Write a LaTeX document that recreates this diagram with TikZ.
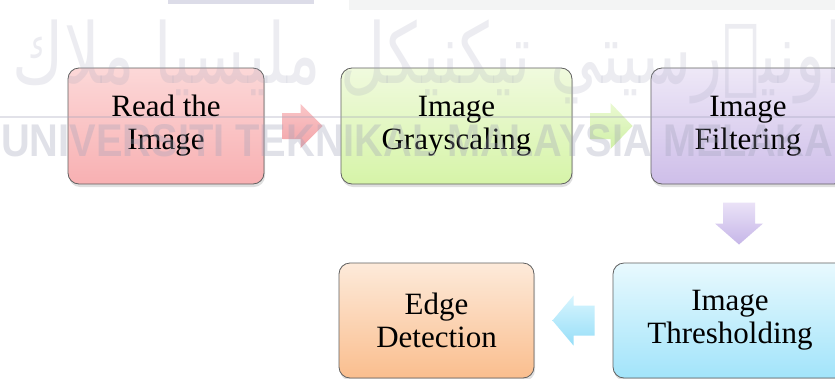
\documentclass[tikz,border=0pt]{standalone}
\usepackage{fontspec}
\usepackage{graphicx}
\setmainfont{Liberation Serif}
\newfontfamily\wmsans{Liberation Sans}
\newfontfamily\arabicfont[Script=Arabic]{DejaVu Sans}
\TeXXeTstate=1
\usetikzlibrary{calc,shadows}
\definecolor{bordgray}{RGB}{96,96,96}
\definecolor{pinkT}{RGB}{252,216,216}\definecolor{pinkB}{RGB}{248,176,178}
\definecolor{greenT}{RGB}{240,250,222}\definecolor{greenB}{RGB}{214,244,168}
\definecolor{purpT}{RGB}{238,232,247}\definecolor{purpB}{RGB}{206,190,233}
\definecolor{cyanT}{RGB}{232,249,254}\definecolor{cyanB}{RGB}{162,228,250}
\definecolor{orgT}{RGB}{253,234,218}\definecolor{orgB}{RGB}{250,190,142}
\definecolor{apinkT}{RGB}{250,198,200}\definecolor{apinkB}{RGB}{242,164,168}
\definecolor{agreenT}{RGB}{234,249,210}\definecolor{agreenB}{RGB}{208,240,166}
\definecolor{apurpT}{RGB}{234,226,247}\definecolor{apurpB}{RGB}{198,182,232}
\definecolor{ablueT}{RGB}{216,245,254}\definecolor{ablueB}{RGB}{150,222,248}
\definecolor{wmgray}{RGB}{160,162,185}
\definecolor{barA}{RGB}{220,220,232}
\definecolor{barB}{RGB}{243,244,244}
\begin{document}
\begin{tikzpicture}[x=1pt,y=-1pt,
  stepbox/.style={draw=bordgray, line width=0.8pt, rounded corners=11pt,
    align=center, inner sep=0pt, font=\fontsize{31}{33}\selectfont,
    drop shadow={shadow xshift=1pt,shadow yshift=-3pt,opacity=0.25}},
  flowarrow/.style={draw=none}
]
\useasboundingbox (0,0) rectangle (835,378);
\fill[white] (0,0) rectangle (835,378);

% boxes
\node[stepbox, minimum width=196pt, minimum height=116pt, top color=pinkT, bottom color=pinkB]
  (b1) at (166,126) {Read the\\Image};
\node[stepbox, minimum width=231pt, minimum height=116pt, top color=greenT, bottom color=greenB]
  (b2) at (456.5,126) {Image\\Grayscaling};
\node[stepbox, minimum width=194pt, minimum height=116pt, top color=purpT, bottom color=purpB]
  (b3) at (748,126) {Image\\Filtering};
\node[stepbox, minimum width=234pt, minimum height=115pt, top color=cyanT, bottom color=cyanB]
  (b4) at (730,320.5) {Image\\Thresholding};
\node[stepbox, minimum width=195pt, minimum height=115pt, top color=orgT, bottom color=orgB]
  (b5) at (436.5,320.5) {Edge\\Detection};

% block arrows between boxes
\coordinate (m1) at ($(b1.east)!0.5!(b2.west)$);
\coordinate (m2) at ($(b2.east)!0.5!(b3.west)$);
\coordinate (m3) at ($(b3.south)!0.5!(b4.north)$);
\coordinate (m4) at ($(b4.west)!0.5!(b5.east)$);

\path[flowarrow, top color=apinkT, bottom color=apinkB]
  ([shift={(-20,-13)}]m1) -- ([shift={(-2,-13)}]m1) -- ([shift={(-2,-22)}]m1)
  -- ([shift={(20,0)}]m1) -- ([shift={(-2,22)}]m1) -- ([shift={(-2,13)}]m1)
  -- ([shift={(-20,13)}]m1) -- cycle;
\path[flowarrow, top color=agreenT, bottom color=agreenB]
  ([shift={(-21,-13)}]m2) -- ([shift={(-1,-13)}]m2) -- ([shift={(-1,-23)}]m2)
  -- ([shift={(21,0)}]m2) -- ([shift={(-1,23)}]m2) -- ([shift={(-1,13)}]m2)
  -- ([shift={(-21,13)}]m2) -- cycle;
\path[flowarrow, top color=apurpT, bottom color=apurpB]
  ([shift={(-16,-21)}]m3) -- ([shift={(16,-21)}]m3) -- ([shift={(16,0)}]m3)
  -- ([shift={(24,0)}]m3) -- ([shift={(0,21)}]m3) -- ([shift={(-24,0)}]m3)
  -- ([shift={(-16,0)}]m3) -- cycle;
\path[flowarrow, top color=ablueT, bottom color=ablueB]
  ([shift={(21,-15)}]m4) -- ([shift={(0,-15)}]m4) -- ([shift={(0,-25)}]m4)
  -- ([shift={(-21,0)}]m4) -- ([shift={(0,25)}]m4) -- ([shift={(0,15)}]m4)
  -- ([shift={(21,15)}]m4) -- cycle;

% watermark (semi-transparent overlay)
\fill[barA] (168,0) rectangle (314,4);
\fill[barB] (349,0) rectangle (835,10);
\node[inner sep=0pt, text=wmgray, opacity=0.2] (wmj) at (428,62)
  {\resizebox*{830pt}{84pt}{\arabicfont\beginR اونيۏرسيتي تيكنيكل مليسيا ملاك\endR}};
\draw[wmgray, opacity=0.3, line width=1.6pt] (0,117) -- (835,117);
\node[inner sep=0pt, anchor=south west, text=wmgray, opacity=0.32] (wml) at (1,157)
  {\resizebox{832pt}{32pt}{\wmsans\bfseries UNIVERSITI TEKNIKAL MALAYSIA MELAKA}};
\end{tikzpicture}
\end{document}
